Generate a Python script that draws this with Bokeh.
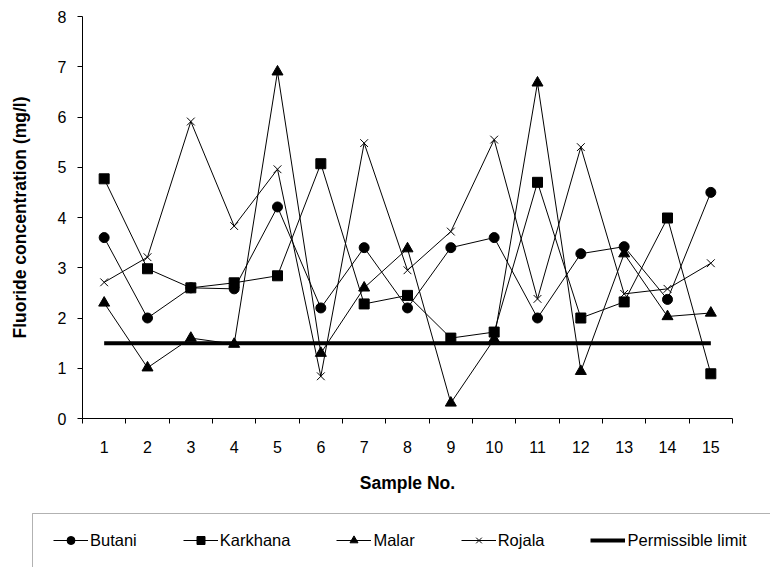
from bokeh.plotting import figure
from bokeh.models import Range1d, FixedTicker, Legend, LegendItem, BoxAnnotation
from bokeh.layouts import column
from bokeh.embed import file_html
from bokeh.resources import INLINE

samples = list(range(1, 16))
sample_labels = [str(s) for s in samples]
butani = [3.6, 2.0, 2.6, 2.58, 4.21, 2.2, 3.4, 2.2, 3.4, 3.6, 2.0, 3.28, 3.42, 2.37, 4.5]
karkhana = [4.77, 2.98, 2.6, 2.7, 2.84, 5.07, 2.28, 2.45, 1.6, 1.72, 4.7, 2.0, 2.32, 3.99, 0.89]
malar = [2.3, 1.01, 1.6, 1.48, 6.9, 1.3, 2.6, 3.38, 0.31, 1.58, 6.68, 0.94, 3.28, 2.03, 2.1]
rojala = [2.71, 3.21, 5.91, 3.83, 4.96, 0.84, 5.48, 2.95, 3.72, 5.55, 2.38, 5.4, 2.48, 2.58, 3.09]
permissible = [1.5] * 15
y_ticks = [0, 1, 2, 3, 4, 5, 6, 7, 8]
series_names = ["Butani", "Karkhana", "Malar", "Rojala", "Permissible limit"]

FONT = "Liberation Sans"

p = figure(width=770, height=505, output_backend="svg", toolbar_location=None,
           x_range=Range1d(0.5, 15.5), y_range=Range1d(0, 8),
           min_border_left=82, min_border_right=38, min_border_top=16, min_border_bottom=87)
p.outline_line_color = None
p.xgrid.visible = False
p.ygrid.visible = False
p.frame_align = False

# axes
p.xaxis.ticker = FixedTicker(ticks=samples, minor_ticks=[s - 0.5 for s in samples] + [15.5])
p.xaxis.major_label_overrides = {s: l for s, l in zip(samples, sample_labels)}
p.xaxis.major_tick_out = 0
p.xaxis.major_tick_in = 0
p.xaxis.minor_tick_out = 5
p.xaxis.minor_tick_in = 0
p.xaxis.minor_tick_line_color = "black"
p.xaxis.major_label_standoff = 17
p.xaxis.axis_label = "Sample No."
p.xaxis.axis_label_standoff = 17

p.yaxis.ticker = FixedTicker(ticks=y_ticks, minor_ticks=[])
p.yaxis.major_tick_out = 5
p.yaxis.major_tick_in = 0
p.yaxis.major_label_standoff = 11
p.yaxis.axis_label = "Fluoride concentration (mg/l)"
p.yaxis.axis_label_standoff = 25

for ax in (p.xaxis[0], p.yaxis[0]):
    ax.axis_line_color = "black"
    ax.major_tick_line_color = "black"
    ax.major_label_text_font = FONT
    ax.major_label_text_font_size = "16px"
    ax.major_label_text_color = "black"
    ax.axis_label_text_font = FONT
    ax.axis_label_text_font_size = "17.5px"
    ax.axis_label_text_font_style = "bold"
    ax.axis_label_text_color = "black"

# series
p.line(samples, permissible, line_color="black", line_width=4)

p.line(samples, butani, line_color="black", line_width=1)
p.scatter(samples, butani, marker="circle", size=10, fill_color="black", line_color="black")

p.line(samples, karkhana, line_color="black", line_width=1)
p.scatter(samples, karkhana, marker="square", size=10, fill_color="black", line_color="black")

p.line(samples, malar, line_color="black", line_width=1)
p.scatter(samples, malar, marker="triangle", size=11, fill_color="black", line_color="black")

p.line(samples, rojala, line_color="black", line_width=1)
p.scatter(samples, rojala, marker="x", size=11, line_color="black", line_width=1)

# legend panel (separate figure so the legend is not clipped by the chart frame)
q = figure(width=770, height=62, output_backend="svg", toolbar_location=None,
           x_range=Range1d(0, 1), y_range=Range1d(0, 1),
           x_axis_location=None, y_axis_location=None,
           min_border_left=0, min_border_right=0, min_border_top=0, min_border_bottom=0)
q.outline_line_color = None
q.xgrid.visible = False
q.ygrid.visible = False
q.frame_align = False

off = [-10]
qb_l = q.line(off, off, line_color="black", line_width=1)
qb_s = q.scatter(off, off, marker="circle", size=10, fill_color="black", line_color="black")
qk_l = q.line(off, off, line_color="black", line_width=1)
qk_s = q.scatter(off, off, marker="square", size=10, fill_color="black", line_color="black")
qm_l = q.line(off, off, line_color="black", line_width=1)
qm_s = q.scatter(off, off, marker="triangle", size=11, fill_color="black", line_color="black")
qr_l = q.line(off, off, line_color="black", line_width=1)
qr_s = q.scatter(off, off, marker="x", size=11, line_color="black", line_width=1)
qp_l = q.line(off, off, line_color="black", line_width=4)

box = BoxAnnotation(left=32, right=900, top=8, bottom=200,
                    left_units="canvas", right_units="canvas", top_units="canvas", bottom_units="canvas",
                    fill_alpha=0, line_color="black", line_width=1)
q.add_layout(box)

legend = Legend(items=[
    LegendItem(label=series_names[0], renderers=[qb_l, qb_s]),
    LegendItem(label=series_names[1], renderers=[qk_l, qk_s]),
    LegendItem(label=series_names[2], renderers=[qm_l, qm_s]),
    LegendItem(label=series_names[3], renderers=[qr_l, qr_s]),
    LegendItem(label=series_names[4], renderers=[qp_l]),
], orientation="horizontal", location=(53, 17),
    padding=0, margin=0, spacing=46, glyph_width=35, glyph_height=20, label_height=20,
    label_standoff=2, border_line_alpha=0, background_fill_alpha=0,
    label_text_font=FONT, label_text_font_size="16.5px", label_text_color="black")
q.add_layout(legend, "center")

layout = column(p, q, spacing=0)
open("out.html", "w").write(file_html(layout, INLINE))
